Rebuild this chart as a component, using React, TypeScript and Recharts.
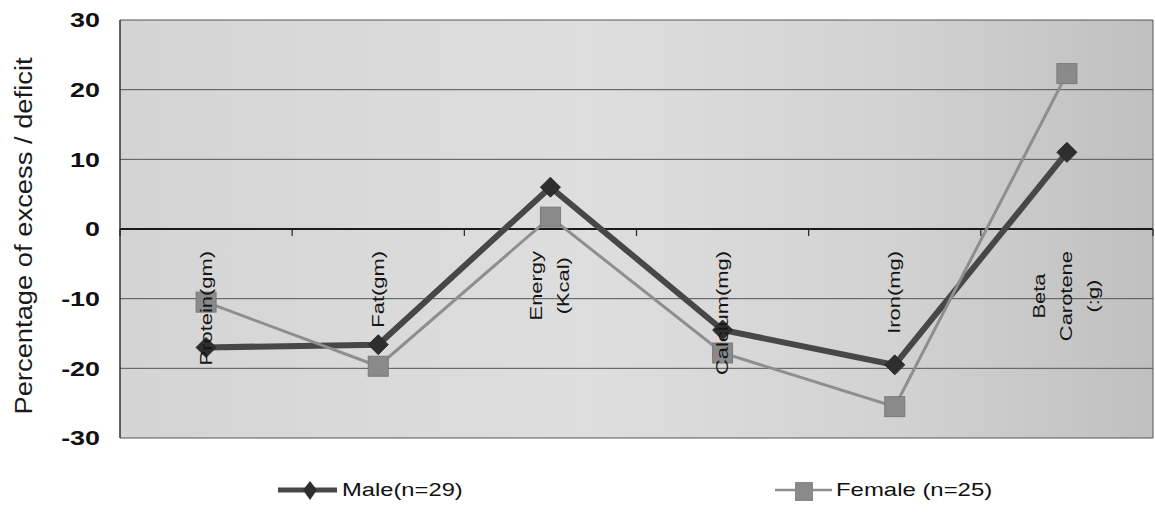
import React from "react";
import { LineChart, Line, XAxis, YAxis, CartesianGrid, ReferenceLine } from "recharts";

const categories = ["Protein(gm)", "Fat(gm)", "Energy\n(Kcal)", "Calcium(mg)", "Iron(mg)", "Beta\nCarotene\n(:g)"];
const maleValues = [-17, -16.6, 6, -14.5, -19.5, 11];
const femaleValues = [-10.5, -19.7, 1.7, -17.8, -25.5, 22.3];
const seriesNames = ["Male(n=29)", "Female (n=25)"];
const yTicks = [-30, -20, -10, 0, 10, 20, 30];

const data = categories.map((c, i) => ({ name: c, male: maleValues[i], female: femaleValues[i] }));

const W = 1155;
const H = 513;
const PLOT = { left: 120, right: 1153, top: 20, bottom: 438 };
const FONT = "'Liberation Sans', Arial, Helvetica, sans-serif";
const zeroY = PLOT.top + (PLOT.bottom - PLOT.top) * (30 / 60);
const BAND = (PLOT.right - PLOT.left) / categories.length;

const CW: Record<string, number> = {
  P: 667, r: 333, o: 556, t: 278, e: 556, i: 222, n: 556, "(": 333, ")": 333, g: 556, m: 833,
  F: 611, a: 556, E: 667, y: 500, K: 667, c: 500, l: 222, C: 722, u: 556, I: 278, B: 667, ":": 278,
};
const LBL_FS = 16;
const LBL_SX = 1.37;
const textLen = (s: string) => s.split("").reduce((a, ch) => a + (CW[ch] ?? 556), 0) / 1000 * LBL_FS * LBL_SX;

function CategoryTick(props: any) {
  const { x, payload, index } = props;
  const lines: string[] = String(payload.value).split("\n");
  const top = 251;
  const maxLen = Math.max(...lines.map(textLen));
  const spacing = 27;
  return (
    <g>
      <line x1={x - BAND / 2} x2={x - BAND / 2} y1={zeroY} y2={zeroY + 7} stroke="#222" strokeWidth={1.2} />
      {index === categories.length - 1 && (
        <line x1={x + BAND / 2} x2={x + BAND / 2} y1={zeroY} y2={zeroY + 7} stroke="#222" strokeWidth={1.2} />
      )}
      {lines.map((ln, i) => {
        const lx = x + (i - (lines.length - 1) / 2) * spacing;
        if (lines.length === 1) {
          return (
            <text key={i} transform={`translate(${lx},${top}) rotate(-90) scale(${LBL_SX},1)`}
              textAnchor="end" dominantBaseline="central" fontFamily={FONT} fontSize={LBL_FS} fill="#151515">
              {ln}
            </text>
          );
        }
        const cy = top + maxLen / 2;
        return (
          <text key={i} transform={`translate(${lx},${cy}) rotate(-90) scale(${LBL_SX},1)`}
            textAnchor="middle" dominantBaseline="central" fontFamily={FONT} fontSize={LBL_FS} fill="#151515">
            {ln}
          </text>
        );
      })}
    </g>
  );
}

function YTick(props: any) {
  const { y, payload } = props;
  return (
    <text transform={`translate(100,${y}) scale(1.28,1)`} textAnchor="end" dominantBaseline="central"
      fontFamily={FONT} fontSize={21} fontWeight="bold" fill="#111">
      {payload.value}
    </text>
  );
}

function AxisTitle() {
  return (
    <text transform={`translate(32,236) rotate(-90) scale(1.14,1)`} textAnchor="middle"
      fontFamily={FONT} fontSize={24} fill="#1a1a1a">
      Percentage of excess / deficit
    </text>
  );
}

function Diamond(props: any) {
  const { cx, cy } = props;
  if (cx == null || cy == null) return null;
  return <polygon points={`${cx},${cy - 10} ${cx + 10},${cy} ${cx},${cy + 10} ${cx - 10},${cy}`} fill="#2e2e2e" stroke="#2a2a2a" strokeWidth={1} />;
}

function Square(props: any) {
  const { cx, cy } = props;
  if (cx == null || cy == null) return null;
  return <rect x={cx - 10} y={cy - 10} width={20} height={20} fill="#8a8a8a" stroke="#7a7a7a" strokeWidth={1} />;
}

export default function App() {
  return (
    <div style={{ position: "absolute", left: 0, top: 0, width: W, height: H, background: "#fff" }}>
      <LineChart width={W} height={H} data={data}
        margin={{ top: PLOT.top, right: 0, left: 0, bottom: 0 }}>
        <defs>
          <linearGradient id="bg" x1="0" y1="0" x2="1" y2="0">
            <stop offset="0" stopColor="#d4d4d4" />
            <stop offset="0.45" stopColor="#dedede" />
            <stop offset="0.75" stopColor="#d2d2d2" />
            <stop offset="1" stopColor="#c0c0c0" />
          </linearGradient>
        </defs>
        <CartesianGrid vertical={false} stroke="#555" strokeWidth={1} fill="url(#bg)" fillOpacity={1} />
        <XAxis dataKey="name" type="category" height={H - PLOT.bottom}
          padding={{ left: BAND / 2, right: BAND / 2 }}
          axisLine={false} tickLine={false} tick={<CategoryTick />} interval={0} />
        <YAxis yAxisId={0} domain={[-30, 30]} ticks={yTicks} width={PLOT.left} tick={<YTick />}
          tickLine={false} axisLine={{ stroke: "#333", strokeWidth: 1.5 }} label={<AxisTitle />} />
        <YAxis yAxisId="r" orientation="right" domain={[-30, 30]} ticks={yTicks} width={W - PLOT.right}
          tick={false} tickLine={false} axisLine={{ stroke: "#555", strokeWidth: 1 }} />
        <ReferenceLine y={0} stroke="#1a1a1a" strokeWidth={2} />
        <Line dataKey="male" name={seriesNames[0]} stroke="#474747" strokeWidth={6} dot={<Diamond />}
          activeDot={false} isAnimationActive={false} />
        <Line dataKey="female" name={seriesNames[1]} stroke="#8e8e8e" strokeWidth={3} dot={<Square />}
          activeDot={false} isAnimationActive={false} />
      </LineChart>
      <svg width={W} height={H} style={{ position: "absolute", left: 0, top: 0, pointerEvents: "none" }}>
        <line x1={278} x2={337} y1={490} y2={490} stroke="#474747" strokeWidth={5} />
        <polygon points="310,481 317,490 310,500 303,490" fill="#2e2e2e" />
        <text transform="translate(342,496) scale(1.32,1)" fontFamily={FONT} fontSize={18} fill="#111">{seriesNames[0]}</text>
        <line x1={775} x2={832} y1={490} y2={490} stroke="#8e8e8e" strokeWidth={2.5} />
        <rect x={795} y={482} width={18} height={19} fill="#8a8a8a" />
        <text transform="translate(836,496) scale(1.33,1)" fontFamily={FONT} fontSize={18} fill="#111">{seriesNames[1]}</text>
      </svg>
    </div>
  );
}
